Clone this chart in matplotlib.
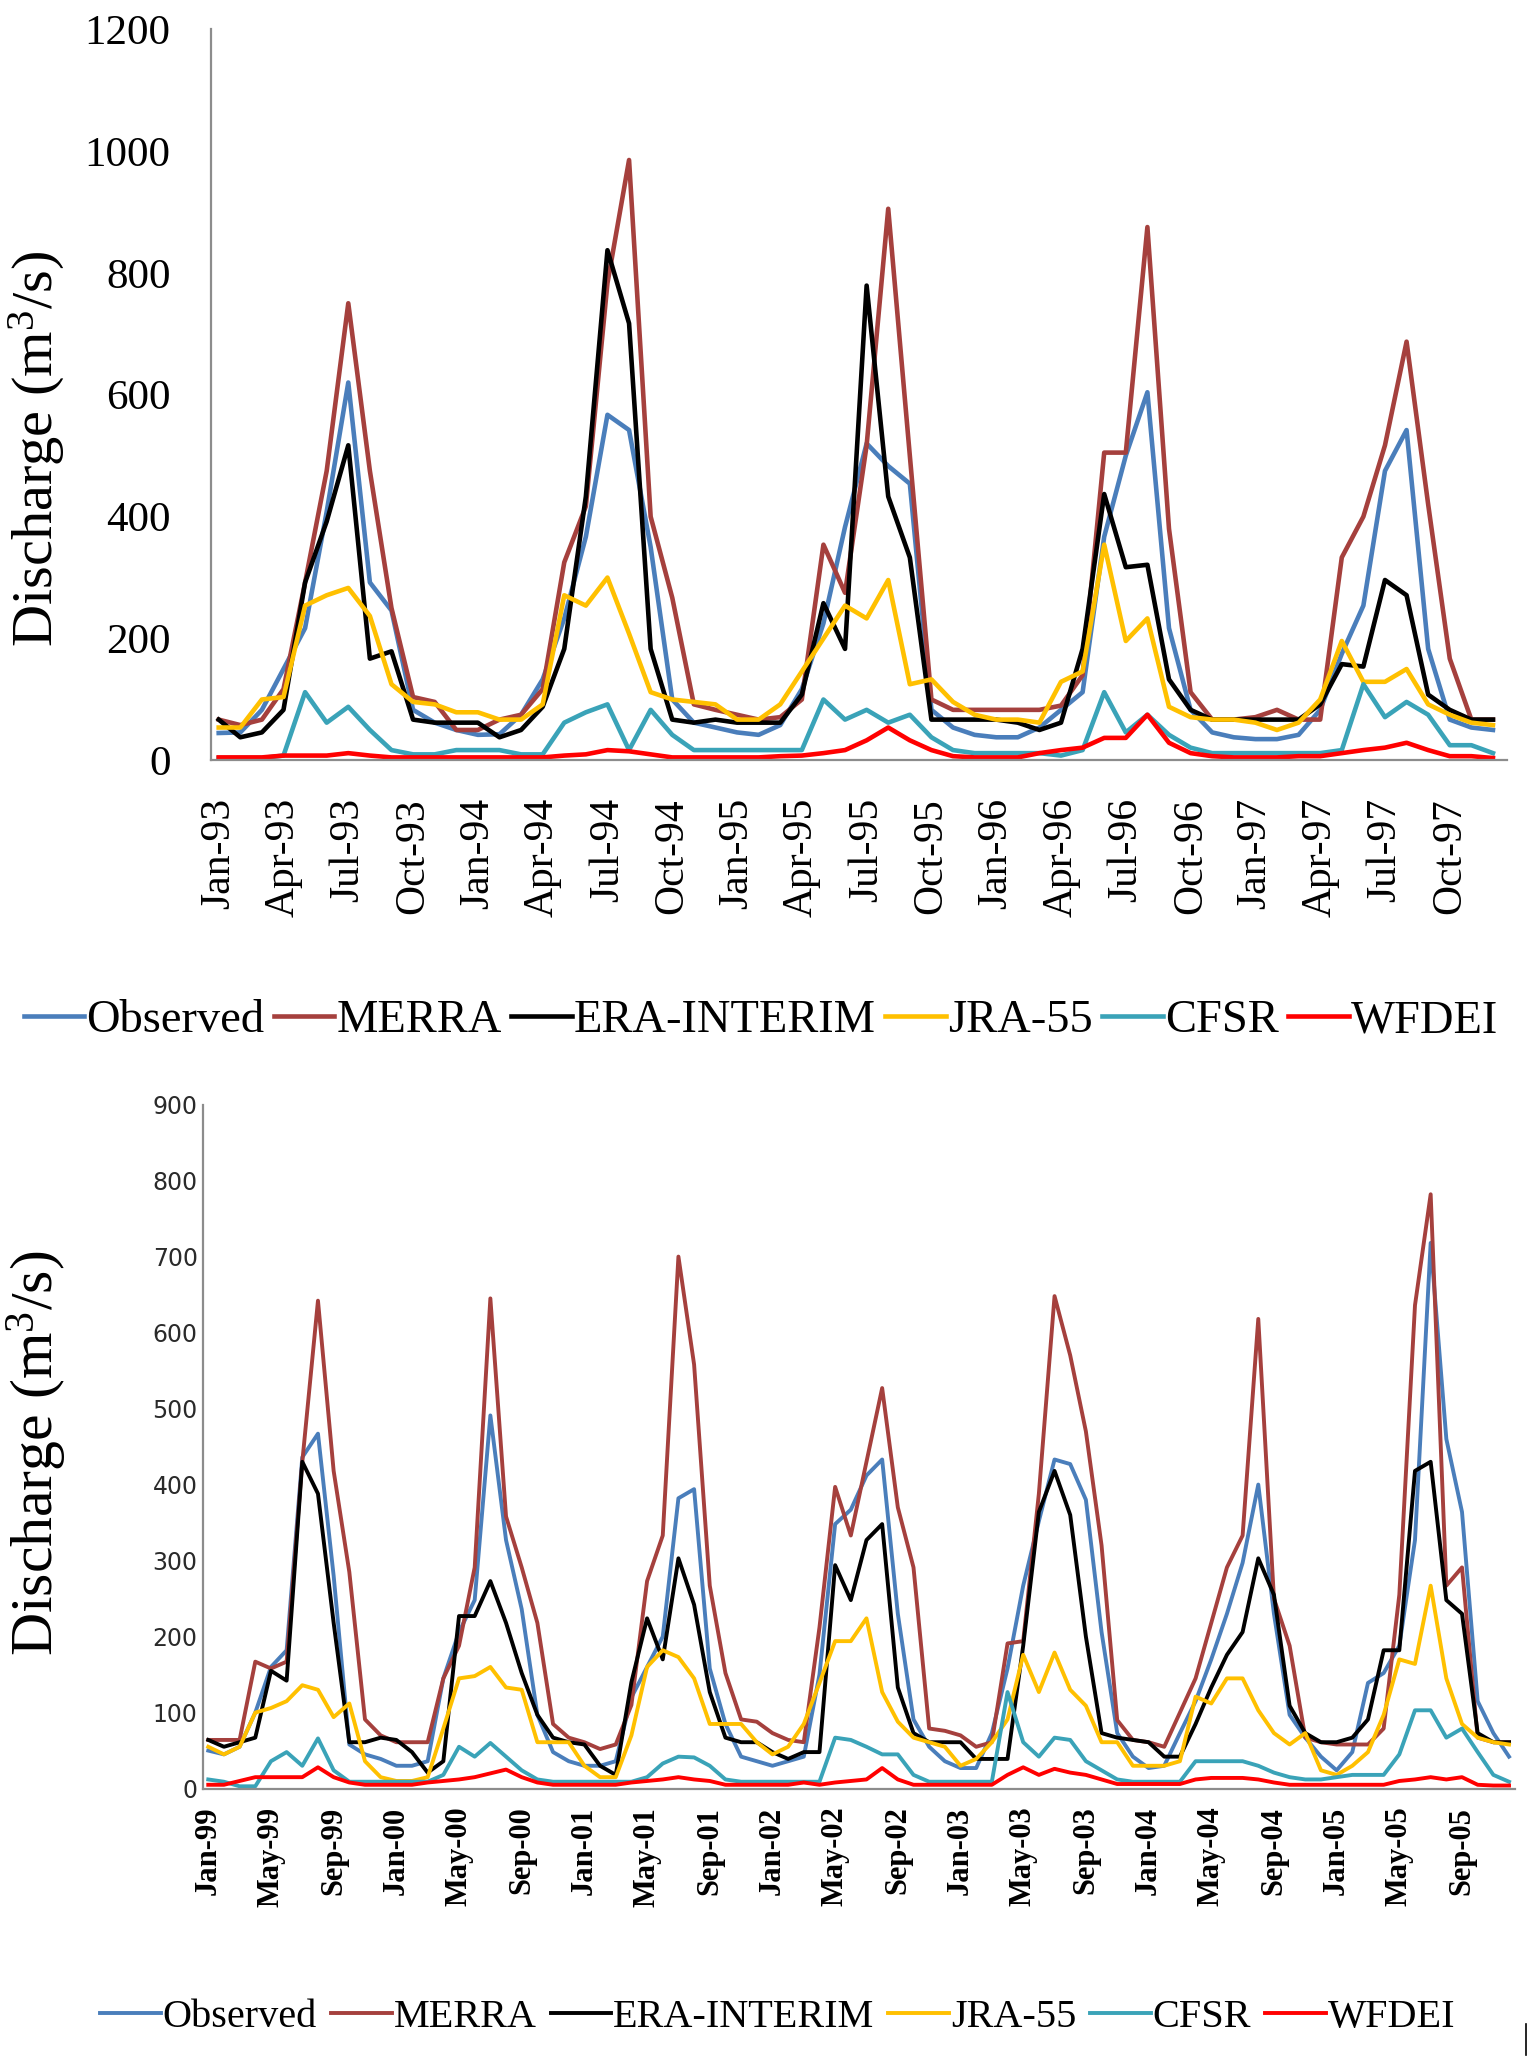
import matplotlib
matplotlib.use('Agg')
import matplotlib.pyplot as plt
from matplotlib.lines import Line2D

plt.rcParams['font.family'] = 'Liberation Serif'
plt.rcParams['mathtext.fontset'] = 'custom'
plt.rcParams['mathtext.rm'] = 'Liberation Serif'
plt.rcParams['mathtext.it'] = 'Liberation Serif:italic'

series_names = ['Observed', 'MERRA', 'ERA-INTERIM', 'JRA-55', 'CFSR', 'WFDEI']
colors = ['#4a7ebb', '#a5403d', '#000000', '#ffc000', '#3aa3b8', '#ff0000']

# ---- panel 1: Jan-93 .. Dec-97 (monthly) ----
top_obs = [45, 46, 83, 150, 217, 408, 620, 292, 246, 83, 62, 50,
           42, 43, 75, 133, 233, 367, 567, 542, 350, 100, 62, 54,
           46, 42, 58, 117, 225, 383, 520, 483, 454, 83, 54, 42,
           38, 38, 54, 83, 112, 367, 500, 604, 217, 83, 46, 38,
           35, 35, 42, 83, 175, 254, 475, 542, 183, 67, 54, 50]
top_merra = [67, 58, 67, 117, 292, 475, 750, 475, 250, 104, 96, 50,
             50, 67, 75, 117, 325, 417, 783, 985, 400, 267, 92, 83,
             75, 67, 71, 100, 354, 275, 517, 905, 500, 100, 83, 83,
             83, 83, 83, 90, 140, 505, 505, 875, 380, 112, 67, 67,
             71, 83, 67, 67, 333, 400, 517, 687, 420, 167, 67, 67]
top_era = [67, 38, 46, 83, 292, 392, 517, 167, 179, 67, 62, 62,
           62, 38, 50, 88, 183, 433, 837, 717, 183, 67, 62, 67,
           62, 62, 62, 108, 258, 183, 779, 433, 333, 67, 67, 67,
           67, 62, 50, 62, 183, 437, 317, 321, 133, 83, 67, 67,
           67, 67, 67, 92, 158, 154, 296, 271, 108, 83, 67, 67]
top_jra = [54, 54, 100, 104, 254, 271, 283, 237, 125, 96, 92, 79,
           79, 67, 67, 92, 271, 254, 300, 208, 112, 100, 96, 92,
           67, 67, 92, 146, 200, 254, 233, 296, 125, 133, 96, 75,
           67, 67, 62, 129, 146, 354, 196, 233, 88, 71, 67, 67,
           62, 50, 62, 100, 196, 129, 129, 150, 92, 75, 62, 58]
top_cfsr = [4, 4, 4, 8, 112, 62, 88, 50, 17, 10, 10, 17,
            17, 17, 10, 10, 62, 79, 92, 17, 83, 42, 17, 17,
            17, 17, 17, 17, 100, 67, 83, 62, 75, 38, 17, 12,
            12, 12, 12, 8, 17, 112, 46, 75, 42, 21, 12, 12,
            12, 12, 12, 12, 17, 125, 71, 96, 75, 25, 25, 12]
top_wfdei = [5, 5, 5, 8, 8, 8, 12, 8, 5, 5, 5, 5,
             5, 5, 5, 5, 8, 10, 17, 15, 10, 5, 5, 5,
             5, 5, 7, 8, 12, 17, 33, 54, 33, 17, 7, 5,
             5, 5, 12, 17, 21, 37, 37, 75, 29, 12, 7, 5,
             5, 5, 7, 7, 12, 17, 21, 29, 17, 7, 7, 4]
top_ticklabels = ['Jan-93', 'Apr-93', 'Jul-93', 'Oct-93', 'Jan-94', 'Apr-94', 'Jul-94',
                  'Oct-94', 'Jan-95', 'Apr-95', 'Jul-95', 'Oct-95', 'Jan-96', 'Apr-96',
                  'Jul-96', 'Oct-96', 'Jan-97', 'Apr-97', 'Jul-97', 'Oct-97']

# ---- panel 2: Jan-99 .. Dec-05 (monthly) ----
bot_obs = [50, 45, 55, 100, 160, 182, 436, 467, 280, 58, 45, 39,
           30, 30, 36, 145, 206, 248, 491, 327, 236, 97, 48, 36,
           30, 30, 36, 120, 160, 200, 382, 394, 158, 85, 42, 36,
           30, 36, 42, 150, 348, 367, 412, 433, 230, 91, 55, 36,
           27, 27, 73, 158, 267, 352, 433, 427, 380, 206, 73, 42,
           27, 30, 73, 115, 170, 230, 297, 400, 230, 97, 67, 42,
           24, 48, 139, 152, 188, 327, 718, 460, 364, 115, 73, 42]
bot_merra = [64, 64, 64, 167, 158, 167, 430, 642, 418, 285, 91, 70,
             61, 61, 61, 145, 188, 291, 645, 358, 291, 218, 85, 67,
             61, 52, 58, 110, 273, 333, 700, 558, 267, 152, 91, 88,
             73, 64, 61, 212, 397, 333, 430, 527, 370, 291, 79, 76,
             70, 55, 61, 191, 194, 388, 648, 570, 470, 320, 90, 64,
             61, 55, 100, 145, 218, 291, 333, 618, 250, 188, 67, 61,
             58, 58, 58, 79, 255, 636, 782, 267, 291, 67, 61, 61]
bot_era = [64, 55, 61, 67, 155, 142, 430, 388, 218, 61, 61, 67,
           64, 48, 21, 36, 227, 227, 273, 218, 152, 97, 67, 61,
           58, 30, 18, 140, 224, 170, 303, 242, 127, 67, 61, 61,
           48, 39, 48, 48, 294, 248, 327, 348, 133, 73, 61, 61,
           61, 39, 39, 39, 188, 364, 418, 360, 200, 73, 67, 64,
           61, 42, 42, 85, 133, 176, 206, 303, 255, 109, 73, 61,
           61, 67, 91, 182, 182, 418, 430, 248, 230, 73, 61, 61]
bot_jra = [55, 45, 55, 100, 106, 115, 136, 130, 94, 112, 36, 15,
           10, 10, 15, 79, 145, 148, 160, 133, 130, 61, 61, 61,
           30, 15, 15, 70, 160, 182, 173, 145, 85, 85, 85, 61,
           45, 55, 85, 139, 194, 194, 224, 127, 88, 67, 61, 55,
           30, 39, 61, 91, 176, 127, 179, 130, 109, 61, 61, 30,
           30, 30, 36, 121, 112, 145, 145, 103, 73, 58, 73, 24,
           18, 30, 48, 97, 170, 164, 267, 145, 85, 67, 61, 58]
bot_cfsr = [12, 9, 3, 3, 36, 48, 30, 66, 24, 9, 9, 9,
            9, 9, 9, 18, 55, 42, 60, 42, 24, 12, 9, 9,
            9, 9, 9, 9, 15, 33, 42, 41, 30, 12, 9, 9,
            9, 9, 9, 9, 67, 64, 55, 45, 45, 18, 9, 9,
            9, 9, 9, 127, 61, 42, 67, 64, 36, 24, 12, 9,
            9, 9, 9, 36, 36, 36, 36, 30, 21, 15, 12, 12,
            15, 18, 18, 18, 45, 103, 103, 67, 79, 48, 18, 9]
bot_wfdei = [5, 5, 10, 15, 15, 15, 15, 28, 15, 8, 5, 5,
             5, 5, 8, 10, 12, 15, 20, 25, 15, 8, 5, 5,
             5, 5, 5, 8, 10, 12, 15, 12, 10, 5, 5, 5,
             5, 5, 8, 5, 8, 10, 12, 27, 12, 5, 5, 5,
             5, 5, 5, 18, 28, 18, 26, 21, 18, 12, 6, 6,
             6, 6, 6, 12, 14, 14, 14, 12, 8, 5, 5, 5,
             5, 5, 5, 5, 10, 12, 15, 12, 15, 5, 4, 4]
bot_ticklabels = ['Jan-99', 'May-99', 'Sep-99', 'Jan-00', 'May-00', 'Sep-00', 'Jan-01',
                  'May-01', 'Sep-01', 'Jan-02', 'May-02', 'Sep-02', 'Jan-03', 'May-03',
                  'Sep-03', 'Jan-04', 'May-04', 'Sep-04', 'Jan-05', 'May-05', 'Sep-05']

fig = plt.figure(figsize=(15.34, 20.67), dpi=100)

ax1 = fig.add_axes([0.1375, 0.6321, 0.8449, 0.3539])
ax2 = fig.add_axes([0.1325, 0.1347, 0.8551, 0.3309])

top_data = [top_obs, top_merra, top_era, top_jra, top_cfsr, top_wfdei]
bot_data = [bot_obs, bot_merra, bot_era, bot_jra, bot_cfsr, bot_wfdei]

for vals, name, c in zip(top_data, series_names, colors):
    ax1.plot(range(len(vals)), vals, color=c, lw=3.3, label=name)
for vals, name, c in zip(bot_data, series_names, colors):
    ax2.plot(range(len(vals)), vals, color=c, lw=2.8, label=name)

for ax in (ax1, ax2):
    for s in ('top', 'right'):
        ax.spines[s].set_visible(False)
    for s in ('left', 'bottom'):
        ax.spines[s].set_color('#8c8c8c')
        ax.spines[s].set_linewidth(1.6)
    ax.tick_params(length=0)

# top panel axes
ax1.set_xlim(-0.36, 59.65)
ax1.set_ylim(0, 1200)
ax1.set_yticks(range(0, 1201, 200))
ax1.tick_params(axis='y', labelsize=31, pad=29)
ax1.set_xticks(range(0, 60, 3))
ax1.set_xticklabels(top_ticklabels, rotation=90, fontsize=30)
ax1.tick_params(axis='x', pad=27)

# bottom panel axes
ax2.set_xlim(-0.32, 83.38)
ax2.set_ylim(0, 900)
ax2.set_yticks(range(0, 901, 100))
ax2.set_yticklabels([str(v) for v in range(0, 901, 100)],
                    fontfamily='DejaVu Sans', fontsize=17, color='#2a2a2a')
ax2.tick_params(axis='y', pad=4)
ax2.set_xticks(range(0, 84, 4))
ax2.set_xticklabels(bot_ticklabels, rotation=90, fontsize=22, fontweight='bold')
ax2.tick_params(axis='x', pad=13)

fig.text(0.024, 0.783, 'Discharge (m$^{3}$/s)', rotation=90, fontsize=42,
         ha='center', va='center')
fig.text(0.024, 0.297, 'Discharge (m$^{3}$/s)', rotation=90, fontsize=43,
         ha='center', va='center')

h1, l1 = ax1.get_legend_handles_labels()
fig.legend(h1, l1, loc='center', bbox_to_anchor=(0.496, 0.506), ncol=6,
           frameon=False, fontsize=33.5, handlelength=1.3, handletextpad=0.05,
           columnspacing=0.2, borderpad=0)
h2, l2 = ax2.get_legend_handles_labels()
fig.legend(h2, l2, loc='center', bbox_to_anchor=(0.507, 0.024), ncol=6,
           frameon=False, fontsize=29, handlelength=1.5, handletextpad=0.05,
           columnspacing=0.35, borderpad=0)

# small stray mark at the lower right corner of the original
fig.add_artist(Line2D([0.9945, 0.9945], [0.006, 0.021], color='black', lw=1.2))

fig.savefig('out.png', dpi=100, facecolor='white')
